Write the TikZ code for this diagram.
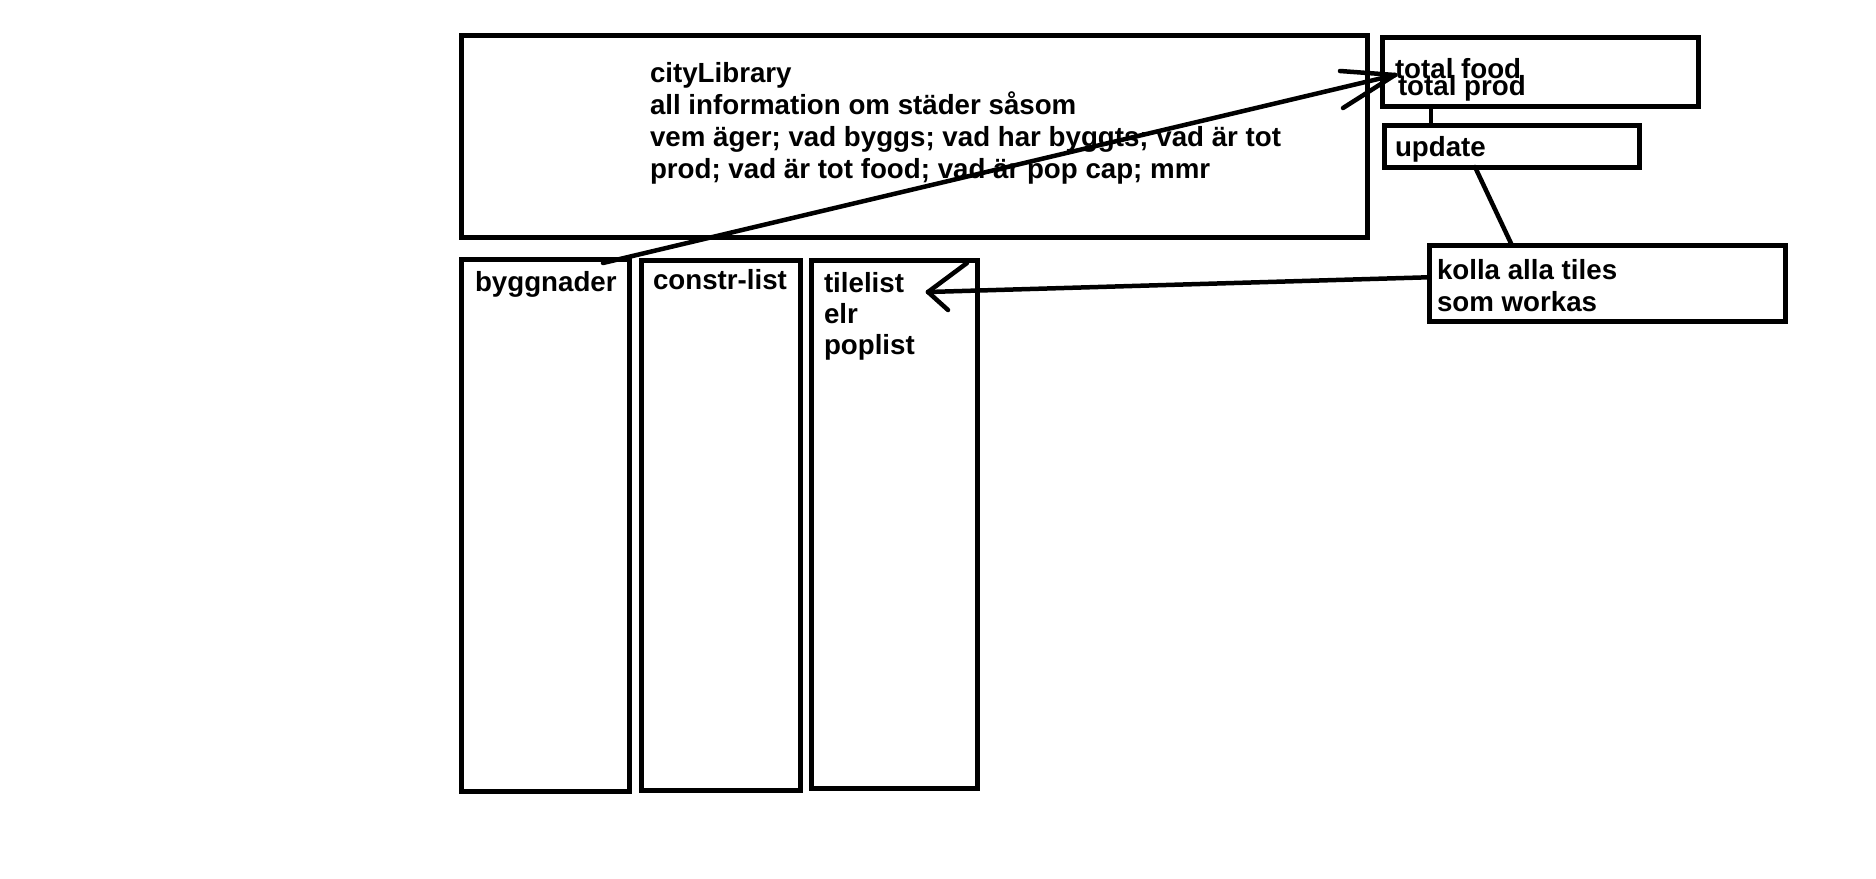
\documentclass[tikz,border=0pt]{standalone}
\usepackage{fontspec}
\setmainfont{Liberation Sans}
\begin{document}
\begin{tikzpicture}[x=1pt,y=-1pt,
  boxnode/.style={draw=black, line width=5pt, inner sep=0pt, outer sep=0pt, anchor=north west},
  lbl/.style={anchor=base west, inner sep=0pt, outer sep=0pt, font=\fontsize{27.7}{32}\selectfont\bfseries},
  conn/.style={draw=black, line width=4.5pt, line cap=round, line join=round}]
\useasboundingbox[fill=white] (0,0) rectangle (1876,878);
% boxes
\node[boxnode, minimum width=905.5pt, minimum height=201.5pt] (lib) at (461.5,35.5) {};
\node[boxnode, minimum width=315.5pt, minimum height=69pt] (food) at (1382.5,37.5) {};
\node[boxnode, minimum width=254.5pt, minimum height=41.5pt] (upd) at (1384.5,125.5) {};
\node[boxnode, minimum width=355.5pt, minimum height=75.5pt] (kolla) at (1429.5,245.5) {};
\node[boxnode, minimum width=168pt, minimum height=532pt] (bygg) at (461.5,259.5) {};
\node[boxnode, minimum width=159pt, minimum height=530.5pt] (constr) at (641.5,260) {};
\node[boxnode, minimum width=166pt, minimum height=527.5pt] (tile) at (811.5,260.5) {};
% texts
\node[lbl] (t1) at (650,82) {cityLibrary};
\node[lbl] (t2) at (650,114) {all information om städer såsom};
\node[lbl] (t3) at (650,146) {vem äger; vad byggs; vad har byggts; vad är tot};
\node[lbl] (t4) at (650,178) {prod; vad är tot food; vad är pop cap; mmr};
\node[lbl] (f1) at (1395,78) {total food};
\node[lbl] (f2) at (1398,95.5) {total prod};
\node[lbl] (u1) at (1395,156) {update};
\node[lbl] (k1) at (1437,279) {kolla alla tiles};
\node[lbl] (k2) at (1437,311) {som workas};
\node[lbl] (b1) at (475,291) {byggnader};
\node[lbl] (c1) at (653,289) {constr-list};
\node[lbl] (l1) at (824,292) {tilelist};
\node[lbl] (l2) at (824,323) {elr};
\node[lbl] (l3) at (824,354) {poplist};
% connectors
\coordinate (s1) at (603,263);
\coordinate (tip1) at (1395,75);
\draw[conn] (s1) -- (tip1);
\draw[conn] (tip1) -- ++(-55,-4);
\draw[conn] (tip1) -- ++(-52,33);
\draw[conn] ([xshift=48.5pt]food.south west) -- ([xshift=46.5pt]upd.north west);
\draw[conn] ([xshift=90.5pt]upd.south west) -- ([xshift=82.5pt]kolla.north west);
\coordinate (tip2) at (928,292);
\draw[conn] ([yshift=6pt]kolla.west) -- (tip2);
\draw[conn] (tip2) -- ++(39,-29);
\draw[conn] (tip2) -- ++(20,18);
\end{tikzpicture}
\end{document}
